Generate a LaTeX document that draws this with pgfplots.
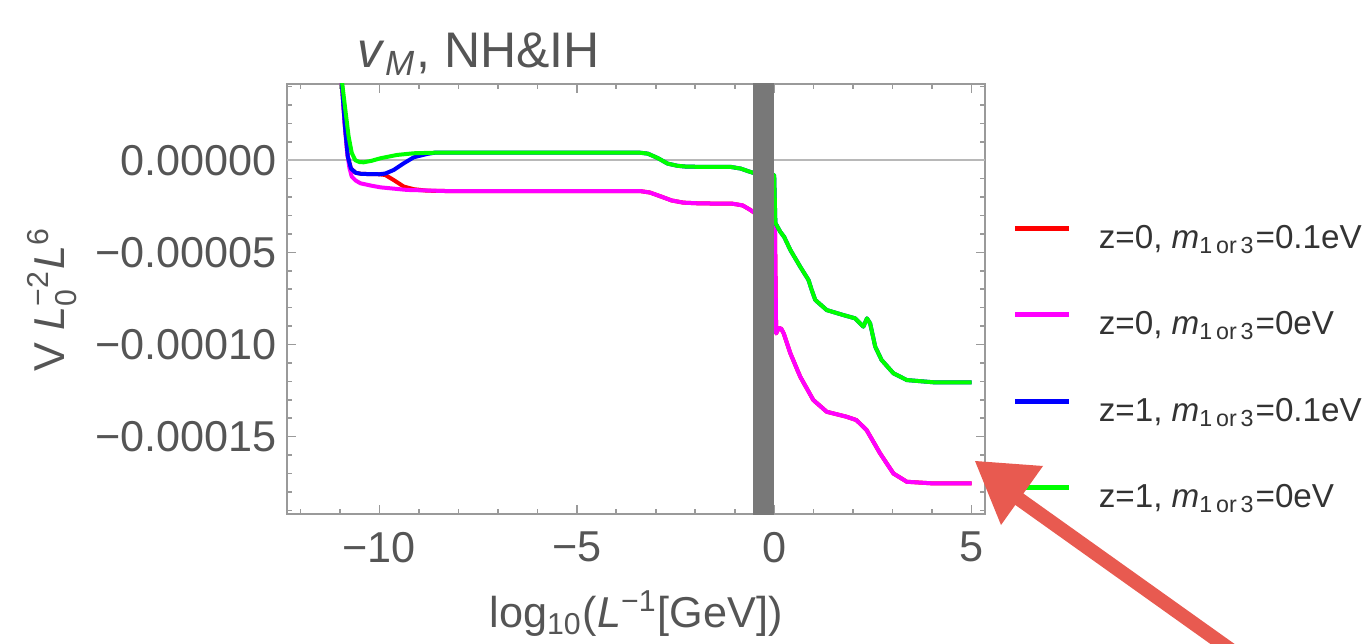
\documentclass[border=0pt]{standalone}
\usepackage{amsmath}
\usepackage{fontspec}
\setmainfont{Liberation Sans}
\usepackage{pgfplots}
\usepackage{pgfplotstable}
\pgfplotsset{compat=1.18}

\definecolor{framegray}{HTML}{9A9A9A}
\definecolor{labelgray}{HTML}{555555}
\definecolor{legtext}{HTML}{333333}
\definecolor{bandgray}{HTML}{787878}
\definecolor{zerogray}{HTML}{B8B8B8}
\definecolor{arrowred}{HTML}{E85A50}
\definecolor{mred}{RGB}{255,0,0}
\definecolor{mmagenta}{RGB}{255,0,255}
\definecolor{mblue}{RGB}{0,0,255}
\definecolor{mgreen}{RGB}{0,255,0}

% x = log10(1/L [GeV]), y = V L0^-2 L^6
\pgfplotstableread{
x y
-11.00 6.00e-5
-10.94 4.14e-5
-10.86 2.70e-5
-10.78 1.30e-5
-10.70 0.40e-5
-10.61 0.00
-10.50 -0.10e-5
-10.40 -0.11e-5
-10.20 -0.03e-5
-9.97 0.11e-5
-9.55 0.29e-5
-9.13 0.38e-5
-8.60 0.41e-5
-3.40 0.41e-5
-3.20 0.36e-5
-2.95 0.12e-5
-2.70 -0.18e-5
-2.45 -0.30e-5
-2.20 -0.35e-5
-1.10 -0.36e-5
-0.85 -0.45e-5
-0.65 -0.60e-5
-0.50 -0.70e-5
0.00 -0.80e-5
0.03 -3.40e-5
0.15 -3.87e-5
0.25 -4.15e-5
0.41 -4.87e-5
0.66 -5.78e-5
0.87 -6.50e-5
0.95 -7.04e-5
1.04 -7.58e-5
1.33 -8.13e-5
1.75 -8.40e-5
2.05 -8.58e-5
2.26 -9.03e-5
2.35 -8.58e-5
2.43 -8.85e-5
2.56 -10.12e-5
2.72 -10.84e-5
3.02 -11.56e-5
3.36 -11.93e-5
4.03 -12.05e-5
5.00 -12.05e-5
}\greendata

\pgfplotstableread{
x y
-11.02 6.00e-5
-10.95 4.14e-5
-10.87 1.80e-5
-10.80 0.20e-5
-10.72 -0.45e-5
-10.60 -0.68e-5
-10.45 -0.74e-5
-10.00 -0.76e-5
-9.85 -0.72e-5
-9.64 -0.53e-5
-9.38 -0.16e-5
-9.13 0.16e-5
-8.80 0.34e-5
-8.60 0.41e-5
-3.40 0.41e-5
-3.20 0.36e-5
-2.95 0.12e-5
-2.70 -0.18e-5
-2.45 -0.30e-5
-2.20 -0.35e-5
-1.10 -0.36e-5
-0.85 -0.45e-5
-0.65 -0.60e-5
-0.50 -0.70e-5
0.00 -0.80e-5
0.03 -3.40e-5
0.15 -3.87e-5
0.25 -4.15e-5
0.41 -4.87e-5
0.66 -5.78e-5
0.87 -6.50e-5
0.95 -7.04e-5
1.04 -7.58e-5
1.33 -8.13e-5
1.75 -8.40e-5
2.05 -8.58e-5
2.26 -9.03e-5
2.35 -8.58e-5
2.43 -8.85e-5
2.56 -10.12e-5
2.72 -10.84e-5
3.02 -11.56e-5
3.36 -11.93e-5
4.03 -12.05e-5
5.00 -12.05e-5
}\bluedata

\pgfplotstableread{
x y
-11.02 6.00e-5
-10.95 4.14e-5
-10.88 2.00e-5
-10.82 0.50e-5
-10.76 -0.40e-5
-10.70 -0.89e-5
-10.60 -1.10e-5
-10.48 -1.25e-5
-10.20 -1.38e-5
-9.97 -1.47e-5
-9.30 -1.61e-5
-8.30 -1.67e-5
-3.40 -1.67e-5
-3.15 -1.75e-5
-2.85 -1.98e-5
-2.60 -2.18e-5
-2.30 -2.30e-5
-1.90 -2.34e-5
-1.05 -2.36e-5
-0.80 -2.45e-5
-0.60 -2.70e-5
-0.50 -2.85e-5
0.00 -3.00e-5
0.02 -3.80e-5
0.05 -9.40e-5
0.12 -9.10e-5
0.18 -9.15e-5
0.24 -9.39e-5
0.41 -10.48e-5
0.66 -11.75e-5
0.99 -13.01e-5
1.33 -13.65e-5
1.83 -13.92e-5
2.08 -14.10e-5
2.34 -14.64e-5
2.68 -15.90e-5
3.02 -17.00e-5
3.36 -17.45e-5
4.03 -17.54e-5
5.00 -17.54e-5
}\magentadata

\pgfplotstableread{
x y
-11.02 6.00e-5
-10.95 4.14e-5
-10.87 1.80e-5
-10.80 0.20e-5
-10.72 -0.45e-5
-10.60 -0.68e-5
-10.45 -0.74e-5
-10.00 -0.76e-5
-9.85 -0.80e-5
-9.64 -1.07e-5
-9.38 -1.43e-5
-9.13 -1.57e-5
-8.80 -1.65e-5
-8.30 -1.67e-5
-3.40 -1.67e-5
-3.15 -1.75e-5
-2.85 -1.98e-5
-2.60 -2.18e-5
-2.30 -2.30e-5
-1.90 -2.34e-5
-1.05 -2.36e-5
-0.80 -2.45e-5
-0.60 -2.70e-5
-0.50 -2.85e-5
0.00 -3.00e-5
0.02 -3.80e-5
0.05 -9.40e-5
0.12 -9.10e-5
0.18 -9.15e-5
0.24 -9.39e-5
0.41 -10.48e-5
0.66 -11.75e-5
0.99 -13.01e-5
1.33 -13.65e-5
1.83 -13.92e-5
2.08 -14.10e-5
2.34 -14.64e-5
2.68 -15.90e-5
3.02 -17.00e-5
3.36 -17.45e-5
4.03 -17.54e-5
5.00 -17.54e-5
}\reddata

\begin{document}
\begin{tikzpicture}
\useasboundingbox (0,0) rectangle (342.5pt,160.75pt);
\begin{axis}[
    at={(71.75pt,32.25pt)}, anchor=south west,
    scale only axis, width=174.5pt, height=107.5pt,
    xmin=-12.34, xmax=5.34,
    ymin=-19.2e-5, ymax=4.14e-5,
    scaled y ticks=false,
    xtick={-10,-5,0,5},
    xticklabels={−10,−5,0,5},
    minor xtick={-12,-11,-9,-8,-7,-6,-4,-3,-2,-1,1,2,3,4},
    ytick={-15e-5,-10e-5,-5e-5,0},
    yticklabels={−0.00015,−0.00010,−0.00005,0.00000},
    minor ytick={-19e-5,-18e-5,-17e-5,-16e-5,-14e-5,-13e-5,-12e-5,-11e-5,-9e-5,-8e-5,-7e-5,-6e-5,-4e-5,-3e-5,-2e-5,-1e-5,1e-5,2e-5,3e-5,4e-5},
    tick align=inside, tick pos=both,
    major tick length=2.2pt, minor tick length=1.2pt,
    tick style={framegray, line width=0.4pt},
    axis line style={framegray, line width=0.5pt},
    tick label style={font=\fontsize{10.8}{13}\selectfont, text=labelgray},
    xticklabel style={yshift=-1pt},
    yticklabel style={xshift=1pt},
    label style={font=\fontsize{10.8}{13}\selectfont, text=labelgray},
    xlabel={log$_{\text{10}}$(\textit{L}$^{\text{−1}}$[GeV])},
    ylabel={V \textit{L}$_{\text{0}}^{\text{−2}}$\textit{L}$^{\text{6}}$},
    xlabel style={at={(rel axis cs:0.5,-0.232)}, anchor=center},
    ylabel style={at={(rel axis cs:-0.337,0.5)}, anchor=center},
    legend style={at={(rel axis cs:1.0387,0.335)}, anchor=west, draw=none, fill=none,
        inner sep=0pt, row sep=13.6pt, column sep=6.75pt,
        font=\fontsize{8.3}{10}\selectfont, text=legtext,
        nodes={inner sep=0pt, text height=6pt, text depth=2pt}},
    legend image code/.code={\draw[#1, line width=1.25pt] (0pt,3pt) -- (13.5pt,3pt);},
    legend cell align=left,
    every axis plot/.append style={line width=1pt, line join=round},
]
\addplot[zerogray, line width=0.5pt, forget plot] coordinates {(-12.34,0) (5.34,0)};
\addplot[mred] table {\reddata};
\addplot[mmagenta] table {\magentadata};
\addplot[mblue] table {\bluedata};
\addplot[mgreen] table {\greendata};
\addplot[draw=none, fill=bandgray, forget plot] coordinates {(-0.53,-20e-5) (-0.53,5e-5) (0,5e-5) (0,-20e-5)} -- cycle;
\legend{z=0\text{, }\textit{m}$_{\text{1\,or\,3}}$=0.1eV,
        z=0\text{, }\textit{m}$_{\text{1\,or\,3}}$=0eV,
        z=1\text{, }\textit{m}$_{\text{1\,or\,3}}$=0.1eV,
        z=1\text{, }\textit{m}$_{\text{1\,or\,3}}$=0eV}
\end{axis}
\begin{scope}[x=0.25pt, y=-0.25pt, yshift=160.75pt]
\node[anchor=base west, inner sep=0pt, font=\fontsize{12.5}{15}\selectfont, text=labelgray]
    at (357,68) {\textit{v}$_{\textit{M}}$, NH\&IH};
\draw[arrowred, line width=3.5pt, line cap=round] (1245,660) -- (1012,494);
\fill[arrowred] (975,461) -- (1043,466) -- (1001,525) -- cycle;
\end{scope}
\end{tikzpicture}
\end{document}
